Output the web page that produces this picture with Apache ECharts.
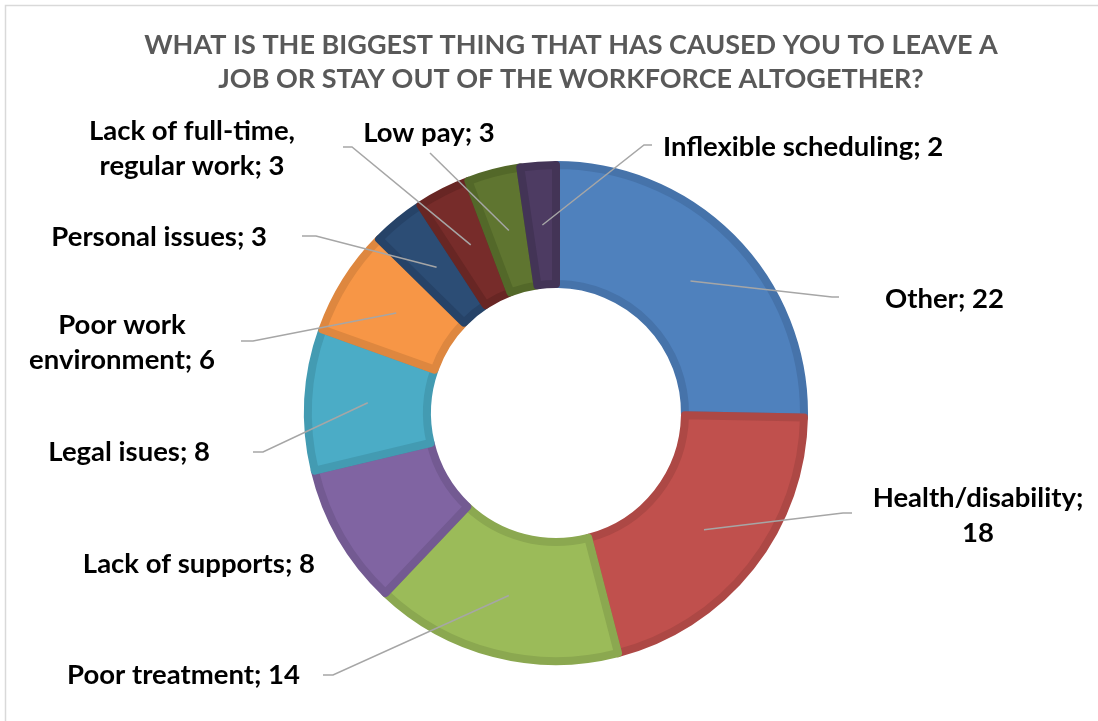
<!DOCTYPE html>
<html>
<head>
<meta charset="utf-8">
<script src="https://cdn.jsdelivr.net/npm/echarts@6/dist/echarts.min.js"></script>
<style>
  html, body { margin: 0; padding: 0; background: #ffffff; }
  #chart { width: 1098px; height: 721px; }
</style>
</head>
<body>
<div id="chart"></div>
<script>
// Survey answers, clockwise from 12 o'clock
const categories = [
  'Other', 'Health/disability', 'Poor treatment', 'Lack of supports', 'Legal isues',
  'Poor work environment', 'Personal issues', 'Lack of full-time, regular work',
  'Low pay', 'Inflexible scheduling'
];
const values = [22, 18, 14, 8, 8, 6, 3, 3, 3, 2];

// Label text as it wraps on the chart
const labelTexts = [
  'Other; 22', 'Health/disability;\n18', 'Poor treatment; 14', 'Lack of supports; 8',
  'Legal isues; 8', 'Poor work\nenvironment; 6', 'Personal issues; 3',
  'Lack of full-time,\nregular work; 3', 'Low pay; 3', 'Inflexible scheduling; 2'
];

const titleLines = [
  'WHAT IS THE BIGGEST THING THAT HAS CAUSED YOU TO LEAVE A',
  'JOB OR STAY OUT OF THE WORKFORCE ALTOGETHER?'
];

// Office theme palette: fill and a slightly darker outline per slice
const fills   = ['#4F81BD', '#C0504D', '#9BBB59', '#8064A2', '#4BACC6', '#F79646', '#2C4D75', '#772C2A', '#5F7530', '#4D3B62'];
const borders = ['#4673AA', '#AD4845', '#8BA850', '#735A92', '#439BB2', '#DE873F', '#264368', '#682624', '#536829', '#433456'];

// Donut geometry
const CX = 556, CY = 413, R0 = 129, R1 = 248;

// Where each label sits and the bend/end of its leader line
const labelSpots = [
  { x: 885, y: 299, align: 'left',   line: [[832, 297], [839, 297]] },
  { x: 978, y: 516, align: 'center', line: [[843, 513], [852, 513]] },
  { x: 300, y: 675, align: 'right',  line: [[333, 675], [323, 675]] },
  { x: 315, y: 564, align: 'right',  line: null },
  { x: 210, y: 452, align: 'right',  line: [[263, 452], [253, 452]] },
  { x: 122, y: 343, align: 'center', line: [[253, 341], [241, 341]] },
  { x: 267, y: 237, align: 'right',  line: [[316, 236], [302, 236]] },
  { x: 192, y: 149, align: 'center', line: [[352, 147], [343, 147]] },
  { x: 429, y: 133, align: 'center', line: [[430, 153]] },
  { x: 663, y: 147, align: 'left',   line: [[644, 145], [652, 145]] }
];

const total = values.reduce((a, b) => a + b, 0);
const before = values.map((v, i) => values.slice(0, i).reduce((a, b) => a + b, 0));

// Leader lines start in the middle of the ring at the slice's mid angle
function ringMidPoint(i) {
  const a = (before[i] + values[i] / 2) / total * Math.PI * 2;
  const rm = (R0 + R1) / 2;
  return [CX + rm * Math.sin(a), CY - rm * Math.cos(a)];
}

// Ring of coloured slices
const ringData = categories.map((name, i) => ({
  name: name,
  value: values[i],
  itemStyle: { color: fills[i], borderColor: borders[i] }
}));

// Same slices, invisible, carrying the labels so their leader lines sit above the ring
const labelData = categories.map((name, i) => ({
  name: name,
  value: values[i],
  labelLine: { show: labelSpots[i].line !== null }
}));

const chart = echarts.init(document.getElementById('chart'), null, { renderer: 'canvas' });

chart.setOption({
  animation: false,
  backgroundColor: '#ffffff',
  graphic: [
    {
      type: 'rect',
      silent: true,
      shape: { x: 5.5, y: 5.5, width: 1200, height: 800 },
      style: { fill: 'none', stroke: '#D9D9D9', lineWidth: 1.5 }
    },
    {
      type: 'text',
      silent: true,
      x: 571,
      y: 62,
      style: {
        text: titleLines.join('\n'),
        align: 'center',
        verticalAlign: 'middle',
        fontFamily: 'Lato, sans-serif',
        fontWeight: 'bold',
        fontSize: 27,
        lineHeight: 34,
        fill: '#595959'
      }
    }
  ],
  series: [
    {
      type: 'pie',
      z: 2,
      silent: true,
      center: [CX, CY],
      radius: [R0, R1],
      startAngle: 90,
      clockwise: true,
      emphasis: { disabled: true },
      itemStyle: { borderWidth: 8 },
      label: { show: false },
      labelLine: { show: false },
      data: ringData
    },
    {
      type: 'pie',
      z: 3,
      silent: true,
      center: [CX, CY],
      radius: [R0, R1],
      startAngle: 90,
      clockwise: true,
      avoidLabelOverlap: false,
      emphasis: { disabled: true },
      itemStyle: { color: 'rgba(0,0,0,0)', borderWidth: 0 },
      label: {
        show: true,
        position: 'outside',
        formatter: (p) => labelTexts[p.dataIndex],
        fontFamily: 'Lato, "Open Sans", sans-serif',
        fontWeight: 'bold',
        fontSize: 27.5,
        lineHeight: 35,
        color: '#000000'
      },
      labelLine: {
        show: true,
        lineStyle: { color: '#A6A6A6', width: 1.5 }
      },
      labelLayout: function (params) {
        const i = params.dataIndex;
        const spot = labelSpots[i];
        const out = { x: spot.x, y: spot.y, align: spot.align, verticalAlign: 'middle' };
        if (spot.line) {
          out.labelLinePoints = [ringMidPoint(i)].concat(spot.line);
        }
        return out;
      },
      data: labelData
    }
  ]
});
</script>
</body>
</html>
